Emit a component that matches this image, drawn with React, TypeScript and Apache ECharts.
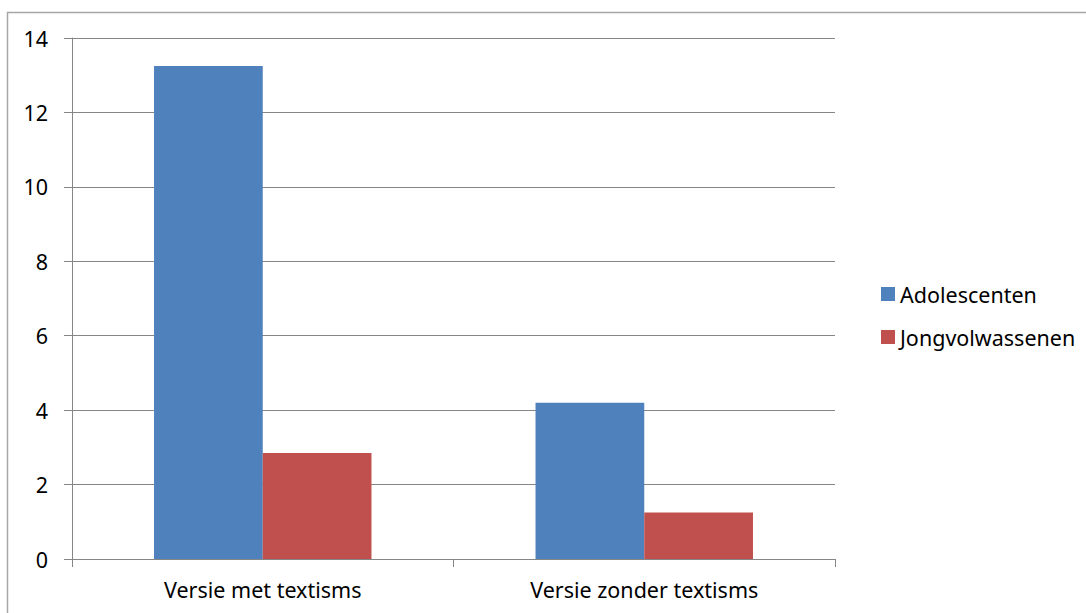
import React, { useEffect, useRef } from "react";
import * as echarts from "echarts";

const categories = ["Versie met textisms", "Versie zonder textisms"];
const seriesNames = ["Adolescenten", "Jongvolwassenen"];
const adolescenten = [13.25, 4.2];
const jongvolwassenen = [2.85, 1.25];
const colors = ["#4F81BD", "#C0504D"];

export default function App() {
  const ref = useRef<HTMLDivElement>(null);
  useEffect(() => {
    const chart = echarts.init(ref.current!, null, { renderer: "svg" });
    const font = "Noto Sans";
    const fs = 21.5;
    chart.setOption({
      animation: false,
      color: colors,
      textStyle: { fontFamily: font },
      graphic: [
        {
          type: "rect",
          shape: { x: 7.5, y: 12.5, width: 1200, height: 800 },
          style: { fill: "none", stroke: "#a6a6a6", lineWidth: 1.5 },
          silent: true,
        },
      ],
      grid: { left: 72, right: 251, top: 38, bottom: 54 },
      legend: {
        orient: "vertical",
        left: 876,
        top: 278,
        itemWidth: 14,
        itemHeight: 14,
        itemGap: 21,
        itemStyle: { borderWidth: 0 },
        icon: "rect",
        textStyle: { fontFamily: font, fontSize: fs, color: "#000", padding: [0, 0, 0, 0] },
        data: seriesNames,
      },
      xAxis: {
        type: "category",
        data: categories,
        axisLine: { lineStyle: { color: "#868686", width: 1 } },
        axisTick: { show: true, length: 8, lineStyle: { color: "#868686" } },
        axisLabel: { fontFamily: font, fontSize: fs, color: "#000", margin: 19 },
      },
      yAxis: {
        type: "value",
        min: 0,
        max: 14,
        interval: 2,
        axisLine: { show: true, lineStyle: { color: "#868686" } },
        axisTick: { show: true, length: 8, lineStyle: { color: "#868686" } },
        axisLabel: { fontFamily: font, fontSize: fs, color: "#000", margin: 24 },
        splitLine: { lineStyle: { color: "#868686" } },
      },
      series: [
        {
          name: seriesNames[0],
          type: "bar",
          data: adolescenten,
          barGap: "0%",
          barCategoryGap: "43%",
        },
        {
          name: seriesNames[1],
          type: "bar",
          data: jongvolwassenen,
          barGap: "0%",
          barCategoryGap: "43%",
        },
      ],
    });
    return () => chart.dispose();
  }, []);
  return (
    <div
      ref={ref}
      style={{ position: "fixed", left: 0, top: 0, width: 1086, height: 613, background: "#fff" }}
    />
  );
}
